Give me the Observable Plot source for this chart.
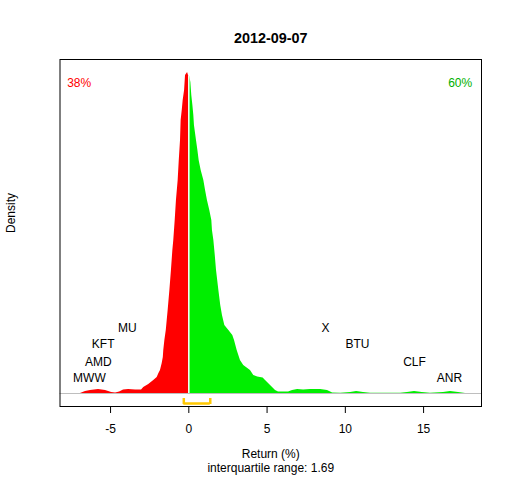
<!DOCTYPE html>
<html><head><meta charset="utf-8">
<script src="https://cdn.jsdelivr.net/npm/d3@7"></script>
<script src="https://cdn.jsdelivr.net/npm/@observablehq/plot@0.6"></script>
<style>body{margin:0;background:#fff} svg{font-family:"Liberation Sans",Arial,sans-serif}</style>
</head><body><div id="chart"></div>
<script>
const title = "2012-09-07";
const returns = [-8.2,-6.92,-6.6,-6.28,-5.77,-5.32,-4.93,-4.68,-4.42,-4.17,-3.85,-3.4,-3.02,-2.88,-2.56,-2.24,-2.02,-1.91,-1.81,-1.7,-1.63,-1.6,-1.53,-1.44,-1.38,-1.32,-1.21,-1.11,-1.02,-0.96,-0.87,-0.79,-0.68,-0.61,-0.53,-0.49,-0.42,-0.36,-0.27,-0.21,-0.08,0,
  0.06,0.13,0.19,0.26,0.32,0.36,0.49,0.58,0.66,0.79,0.96,1.07,1.19,1.34,1.47,1.51,1.6,1.69,1.77,1.92,2.04,2.15,2.3,2.56,2.81,2.92,3.09,3.3,3.51,3.94,4.15,4.4,4.75,4.9,5.22,5.54,5.73,6.37,6.63,6.95,7.33,7.78,8.42,8.86,9.19,9.7,10.34,10.72,11.16,11.61,13.53,13.97,14.42,14.91,15.44,16.27,16.72,17.23,17.68,18.6];
const density = [0,0,0.0026,0.0039,0.0052,0.0039,0.0013,0.0007,0.002,0.0046,0.0052,0.0046,0.0046,0.0079,0.0118,0.017,0.0209,0.0262,0.0301,0.0393,0.0471,0.0563,0.0693,0.0824,0.0955,0.1086,0.1348,0.1609,0.1871,0.2002,0.2264,0.2525,0.2787,0.3049,0.331,0.3572,0.3703,0.3834,0.3964,0.4161,0.42,0.4148,
  0.4148,0.4069,0.3899,0.3768,0.3637,0.3507,0.331,0.3179,0.3049,0.2918,0.2787,0.2656,0.2525,0.2394,0.2264,0.2133,0.2002,0.1806,0.1609,0.1348,0.1151,0.1021,0.089,0.0824,0.0759,0.0693,0.0563,0.0432,0.0366,0.0301,0.0236,0.0216,0.0203,0.017,0.0105,0.0039,0.002,0.002,0.0039,0.0052,0.0046,0.0052,0.0052,0.0039,0.0007,0.0004,0.0013,0.0026,0.0013,0.0004,0.0004,0.0013,0.0026,0.0013,0.0004,0.0013,0.0026,0.0013,0,0];
const tickers = ["MWW","AMD","KFT","MU","X","BTU","CLF","ANR"];
const tickerReturns = [-6.35,-5.78,-5.47,-3.93,8.73,10.77,14.42,16.65];
const tickerLevels = [0.0203,0.0412,0.0641,0.086,0.086,0.0641,0.0412,0.0203];
const pctBelow = "38%";
const pctAbove = "60%";
const quartiles = [-0.32, 1.37];
const iqrLabel = "interquartile range: 1.69";
const xLabel = "Return (%)";
const yLabel = "Density";
const xTicks = [-5, 0, 5, 10, 15];

const pts = returns.map((x, i) => ({x, y: density[i]}));
const labels = tickers.map((t, i) => ({t, x: tickerReturns[i], y: tickerLevels[i]}));
const dZero = density[returns.indexOf(0)];
const gold = "#FFC800";

const chart = Plot.plot({
  width: 512, height: 480,
  marginLeft: 59.5, marginRight: 31, marginTop: 59, marginBottom: 74,
  style: {background: "#fff", fontSize: "12px", color: "black"},
  x: {domain: [-8.23, 18.7]},
  y: {domain: [-0.017, 0.437], axis: null},
  marks: [
    Plot.ruleY([0], {stroke: "#BEBEBE"}),
    Plot.areaY(pts, {x: "x", y: "y", filter: d => d.x <= 0, fill: "#FF0000"}),
    Plot.areaY(pts, {x: "x", y: "y", filter: d => d.x >= 0, fill: "#00EE00"}),
    Plot.ruleX([0], {y1: 0, y2: dZero, stroke: "white", strokeWidth: 1.5}),
    Plot.ruleY([0], {x1: quartiles[0], x2: quartiles[1], dy: 10, stroke: gold, strokeWidth: 2.5}),
    Plot.ruleX(quartiles, {y1: 0, y2: 0, insetTop: -3, insetBottom: -3, dy: 8, stroke: gold, strokeWidth: 2.5}),
    Plot.text(labels, {x: "x", y: "y", text: "t", fontSize: 12, fill: "black"}),
    Plot.frame({stroke: "black"}),
    Plot.axisX({ticks: xTicks, tickSize: 7, tickPadding: 11, label: null, fontSize: 12, tickFormat: d => String(d)}),
    Plot.text([title], {frameAnchor: "top", dy: -27, fontWeight: "bold", fontSize: 14.4}),
    Plot.text([pctBelow], {frameAnchor: "top-left", dx: 7.2, dy: 19, textAnchor: "start", fill: "#FF0000", fontSize: 12}),
    Plot.text([pctAbove], {frameAnchor: "top-right", dx: -9.3, dy: 19, textAnchor: "end", fill: "#00B000", fontSize: 12}),
    Plot.text([yLabel], {frameAnchor: "left", dx: -49, rotate: -90, fontSize: 12}),
    Plot.text([xLabel], {frameAnchor: "bottom", dy: 51, fontSize: 12}),
    Plot.text([iqrLabel], {frameAnchor: "bottom", dy: 65, fontSize: 12})
  ]
});
document.getElementById("chart").append(chart);
</script></body></html>
